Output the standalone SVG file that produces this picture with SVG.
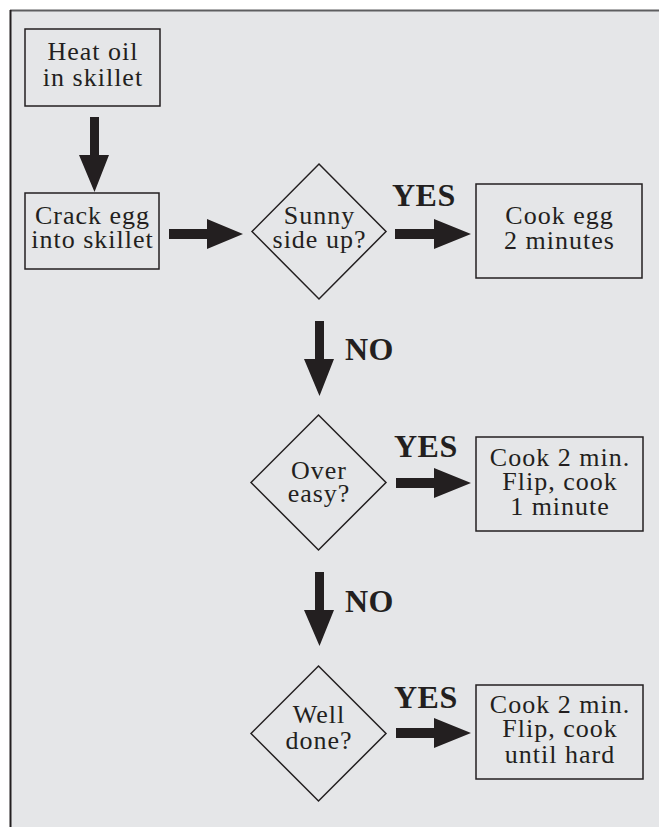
<svg xmlns="http://www.w3.org/2000/svg" width="659" height="827" viewBox="0 0 659 827">
<style>
.box{fill:none;stroke:#231f20;stroke-width:1.5}
.t{font-family:"Liberation Serif","Times New Roman",serif;font-size:26px;letter-spacing:1px;fill:#231f20;text-anchor:middle}
.b{font-family:"Liberation Serif","Times New Roman",serif;font-size:32px;letter-spacing:0.5px;font-weight:bold;fill:#231f20}
.ar{fill:#231f20}
</style>
<rect x="0" y="0" width="659" height="827" fill="#ffffff"/>
<rect x="10" y="10" width="649" height="817" fill="#e5e6e8"/>
<line x1="10" y1="10.5" x2="659" y2="10.5" stroke="#5e5e60" stroke-width="2"/>
<line x1="10.5" y1="10" x2="10.5" y2="827" stroke="#231f20" stroke-width="2"/>

<g id="heat">
<rect class="box" x="25" y="29" width="135" height="77"/>
<text class="t" x="93" y="60">Heat oil</text>
<text class="t" x="93" y="86">in skillet</text>
</g>
<g id="crack">
<rect class="box" x="25" y="193" width="134" height="76"/>
<text class="t" x="92.5" y="224">Crack egg</text>
<text class="t" x="92.5" y="248">into skillet</text>
</g>
<g id="sunny">
<polygon class="box" points="319,164 386,231.5 319,299 252,231.5"/>
<text class="t" x="319.5" y="224">Sunny</text>
<text class="t" x="319.5" y="248">side up?</text>
</g>
<g id="cook1">
<rect class="box" x="476" y="184" width="166" height="94"/>
<text class="t" x="559.5" y="224">Cook egg</text>
<text class="t" x="559.5" y="249">2 minutes</text>
</g>
<g id="over">
<polygon class="box" points="318.5,415 386,482.5 318.5,550 251,482.5"/>
<text class="t" x="319" y="479">Over</text>
<text class="t" x="319" y="502">easy?</text>
</g>
<g id="cook2">
<rect class="box" x="476" y="437" width="167" height="94"/>
<text class="t" x="560" y="466">Cook 2 min.</text>
<text class="t" x="560" y="490">Flip, cook</text>
<text class="t" x="560" y="515">1 minute</text>
</g>
<g id="well">
<polygon class="box" points="318.5,666 386,733.5 318.5,801 251,733.5"/>
<text class="t" x="319" y="723">Well</text>
<text class="t" x="319" y="749">done?</text>
</g>
<g id="cook3">
<rect class="box" x="476" y="685" width="167" height="94"/>
<text class="t" x="560" y="713">Cook 2 min.</text>
<text class="t" x="560" y="737">Flip, cook</text>
<text class="t" x="560" y="763">until hard</text>
</g>

<g id="connectors">
<polygon class="ar" points="90,117 99,117 99,155 109,155 94.5,192 79,155 90,155"/>
<polygon class="ar" points="169,229 207,229 207,219 243,234 207,249 207,239 169,239"/>
<polygon class="ar" points="395,229 434,229 434,219 471,234 434,249 434,239 395,239"/>
<polygon class="ar" points="315,321 324,321 324,359 334,359 319.5,396 304,359 315,359"/>
<polygon class="ar" points="396,478 434,478 434,468 471,483 434,498 434,488 396,488"/>
<polygon class="ar" points="315,572 324,572 324,610 334,610 319.5,646 304,610 315,610"/>
<polygon class="ar" points="396,728 434,728 434,718 471,733 434,748 434,738 396,738"/>
<text class="b" x="392" y="206">YES</text>
<text class="b" x="345" y="360">NO</text>
<text class="b" x="394" y="457">YES</text>
<text class="b" x="345" y="612">NO</text>
<text class="b" x="394" y="708">YES</text>
</g>
</svg>
